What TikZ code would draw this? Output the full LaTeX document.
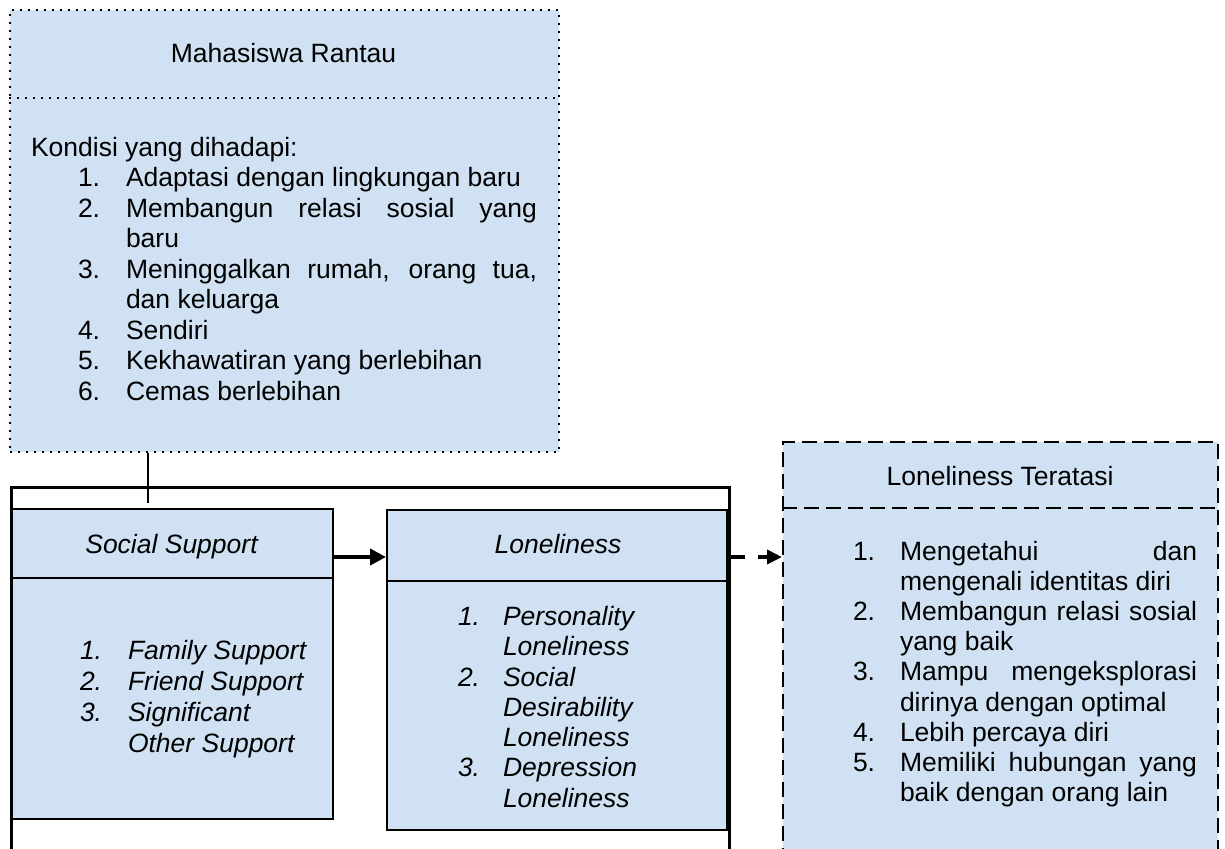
\documentclass[tikz,border=0pt]{standalone}
\usepackage{fontspec}
\setmainfont{Liberation Sans}
\usetikzlibrary{arrows.meta}
\definecolor{boxblue}{RGB}{207,225,242}
\newcommand{\fs}{\fontsize{26.5}{30}\selectfont}
\begin{document}
\begin{tikzpicture}[x=1pt,y=-1pt,
  txt/.style={anchor=base west, inner sep=0pt, outer sep=0pt, font=\fs},
  itxt/.style={txt, font=\fs\itshape},
  ctxt/.style={anchor=base, inner sep=0pt, outer sep=0pt, font=\fs},
  ictxt/.style={ctxt, font=\fs\itshape},
  dotline/.style={line width=1.8pt, dash pattern=on 1.8pt off 6.2pt},
  dashline/.style={line width=1.5pt, dash pattern=on 15pt off 7pt},
  dotbox/.style={draw, fill=boxblue, dotline, inner sep=0pt, anchor=north west},
  dashbox/.style={draw, fill=boxblue, dashline, inner sep=0pt, anchor=north west},
  solidbox/.style={draw, fill=boxblue, line width=2pt, inner sep=0pt, anchor=north west},
]
\useasboundingbox (0,0) rectangle (1225,848);
\clip (0,0) rectangle (1225,848);

% ---------- top box ----------
\node[dotbox, minimum width=549pt, minimum height=442pt] (mr) at (9,9) {};
\coordinate (mrd) at (0,98);
\draw[dotline] (mr.west |- mrd) -- (mr.east |- mrd);
\node[ctxt] (mrt) at (283.5,63) {Mahasiswa Rantau};
\node[txt] (k0) at (31,156) {Kondisi yang dihadapi:};
\node[txt] (kn1) at (78,186.5) {1.};
\node[txt] (kt1) at (126,186.5) {Adaptasi dengan lingkungan baru};
\node[txt] (kn2) at (78,217) {2.};
\node[txt] (kt2) at (126,217) {\makebox[411pt][s]{Membangun relasi sosial yang}};
\node[txt] (kt2b) at (126,247.5) {baru};
\node[txt] (kn3) at (78,278) {3.};
\node[txt] (kt3) at (126,278) {\makebox[411pt][s]{Meninggalkan rumah, orang tua,}};
\node[txt] (kt3b) at (126,308.5) {dan keluarga};
\node[txt] (kn4) at (78,339) {4.};
\node[txt] (kt4) at (126,339) {Sendiri};
\node[txt] (kn5) at (78,369.5) {5.};
\node[txt] (kt5) at (126,369.5) {Kekhawatiran yang berlebihan};
\node[txt] (kn6) at (78,400) {6.};
\node[txt] (kt6) at (126,400) {Cemas berlebihan};

% ---------- Social Support ----------
\node[solidbox, minimum width=322pt, minimum height=310pt] (ss) at (10,508) {};
\coordinate (ssd) at (0,578);
\draw[line width=2pt] (ss.west |- ssd) -- (ss.east |- ssd);
\node[ictxt] (sst) at (171.5,553) {Social Support};
\node[itxt] (sn1) at (80,659) {1.};
\node[itxt] (st1) at (128,659) {Family Support};
\node[itxt] (sn2) at (80,690) {2.};
\node[itxt] (st2) at (128,690) {Friend Support};
\node[itxt] (sn3) at (80,721) {3.};
\node[itxt] (st3) at (128,721) {Significant};
\node[itxt] (st3b) at (128,752) {Other Support};

% ---------- Loneliness ----------
\node[solidbox, minimum width=340pt, minimum height=320pt] (lo) at (386,509) {};
\coordinate (lod) at (0,581);
\draw[line width=2pt] (lo.west |- lod) -- (lo.east |- lod);
\node[ictxt] (lot) at (558,553) {Loneliness};
\node[itxt] (ln1) at (458,625.5) {1.};
\node[itxt] (lt1) at (503,625.5) {Personality};
\node[itxt] (lt1b) at (503,655.8) {Loneliness};
\node[itxt] (ln2) at (458,686) {2.};
\node[itxt] (lt2) at (503,686) {Social};
\node[itxt] (lt2b) at (503,716.3) {Desirability};
\node[itxt] (lt2c) at (503,746.5) {Loneliness};
\node[itxt] (ln3) at (458,776.8) {3.};
\node[itxt] (lt3) at (503,776.8) {Depression};
\node[itxt] (lt3b) at (503,807) {Loneliness};

% ---------- outer frame ----------
\node[draw, line width=3pt, inner sep=0pt, anchor=north west, minimum width=718pt, minimum height=420pt] (frame) at (10,486) {};

% ---------- Loneliness Teratasi ----------
\node[dashbox, minimum width=435pt, minimum height=440pt] (lr) at (782,441) {};
\coordinate (lrd) at (0,508);
\draw[dashline] (lr.west |- lrd) -- (lr.east |- lrd);
\node[ctxt] (lrt) at (1000,485) {Loneliness Teratasi};
\node[txt] (rn1) at (853,560) {1.};
\node[txt] (rt1) at (900,560) {\makebox[297pt][s]{Mengetahui dan}};
\node[txt] (rt1b) at (900,590.2) {mengenali identitas diri};
\node[txt] (rn2) at (853,620.4) {2.};
\node[txt] (rt2) at (900,620.4) {\makebox[297pt][s]{Membangun relasi sosial}};
\node[txt] (rt2b) at (900,650.6) {yang baik};
\node[txt] (rn3) at (853,680.8) {3.};
\node[txt] (rt3) at (900,680.8) {\makebox[297pt][s]{Mampu mengeksplorasi}};
\node[txt] (rt3b) at (900,711) {dirinya dengan optimal};
\node[txt] (rn4) at (853,741.2) {4.};
\node[txt] (rt4) at (900,741.2) {Lebih percaya diri};
\node[txt] (rn5) at (853,771.4) {5.};
\node[txt] (rt5) at (900,771.4) {\makebox[297pt][s]{Memiliki hubungan yang}};
\node[txt] (rt5b) at (900,801.6) {baik dengan orang lain};

% ---------- connectors ----------
\coordinate (cc) at (148,503);
\draw[line width=1.5pt] (mr.south -| cc) -- (cc);
\coordinate (ay) at (0,557);
\draw[line width=4pt, -{Triangle[length=16pt,width=16pt]}] (ss.east |- ay) -- (lo.west |- ay);
\draw[line width=4pt, dash pattern=on 14pt off 13pt, -{Triangle[length=15pt,width=14pt]}] (frame.east |- ay) -- (lr.west |- ay);
\end{tikzpicture}
\end{document}
